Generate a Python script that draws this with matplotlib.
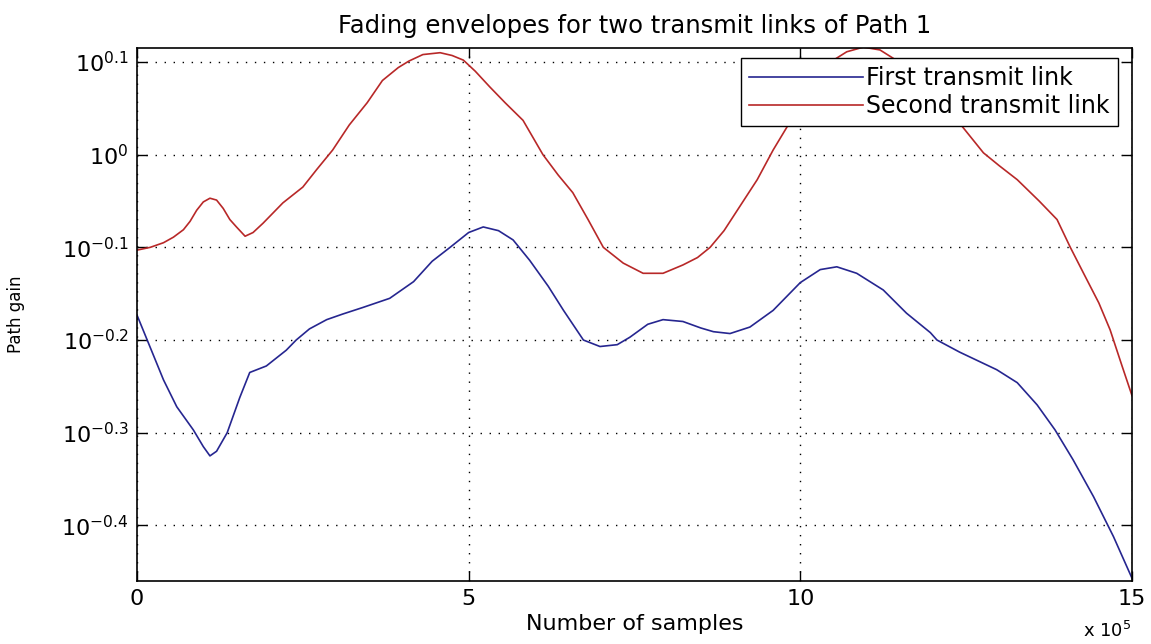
import numpy as np
import matplotlib
matplotlib.use('Agg')
import matplotlib.pyplot as plt
from matplotlib.ticker import FixedLocator, NullLocator

plt.rcParams['font.family'] = ['DejaVu Sans']
plt.rcParams['mathtext.fontset'] = 'dejavusans'

# Samples (x 1e5) and log10 of the path gain.
first_samples = [0.0, 0.2, 0.4, 0.6, 0.85, 1.0, 1.1, 1.2, 1.36, 1.55, 1.7, 1.95,
                 2.25, 2.4, 2.6, 2.86, 3.1, 3.4, 3.81, 4.17, 4.45, 4.72, 5.0,
                 5.22, 5.45, 5.67, 5.92, 6.2, 6.43, 6.73, 6.98, 7.24, 7.43, 7.7,
                 7.93, 8.23, 8.5, 8.69, 8.94, 9.24, 9.59, 10.0, 10.3, 10.55,
                 10.85, 11.25, 11.6, 11.96, 12.06, 12.4, 12.96, 13.27, 13.57,
                 13.84, 14.11, 14.42, 14.72, 15.0]
first_log_gain = [-0.173, -0.208, -0.243, -0.272, -0.297, -0.315, -0.325, -0.32,
                  -0.300, -0.262, -0.235, -0.228, -0.211, -0.200, -0.188, -0.178,
                  -0.172, -0.165, -0.155, -0.137, -0.115, -0.100, -0.084, -0.078,
                  -0.082, -0.092, -0.114, -0.142, -0.168, -0.200, -0.207, -0.205,
                  -0.197, -0.183, -0.178, -0.180, -0.187, -0.191, -0.193, -0.186,
                  -0.168, -0.138, -0.124, -0.121, -0.128, -0.146, -0.171, -0.192,
                  -0.200, -0.213, -0.232, -0.246, -0.270, -0.297, -0.329, -0.369,
                  -0.412, -0.457]

second_samples = [0.0, 0.2, 0.4, 0.55, 0.7, 0.8, 0.9, 1.0, 1.1, 1.2, 1.3, 1.4,
                  1.5, 1.63, 1.75, 1.9, 2.05, 2.2, 2.5, 2.71, 2.95, 3.2, 3.47,
                  3.7, 3.94, 4.1, 4.31, 4.57, 4.75, 4.92, 5.1, 5.32, 5.55, 5.82,
                  6.12, 6.35, 6.57, 6.8, 7.03, 7.33, 7.63, 7.93, 8.23, 8.45, 8.64,
                  8.85, 9.05, 9.35, 9.59, 9.8, 10.05, 10.3, 10.5, 10.7, 10.95,
                  11.2, 11.4, 11.6, 11.8, 12.1, 12.4, 12.76, 13.0, 13.27, 13.6,
                  13.87, 14.07, 14.27, 14.5, 14.67, 14.85, 15.0]
second_log_gain = [-0.103, -0.100, -0.095, -0.089, -0.081, -0.072, -0.060, -0.051,
                   -0.047, -0.049, -0.058, -0.070, -0.078, -0.088, -0.084, -0.074,
                   -0.063, -0.052, -0.035, -0.016, 0.005, 0.032, 0.056, 0.080,
                   0.094, 0.101, 0.108, 0.110, 0.107, 0.102, 0.090, 0.073, 0.056,
                   0.037, 0.000, -0.022, -0.041, -0.070, -0.100, -0.117, -0.128,
                   -0.128, -0.119, -0.111, -0.100, -0.082, -0.060, -0.027, 0.005,
                   0.030, 0.060, 0.087, 0.102, 0.111, 0.116, 0.113, 0.104, 0.090,
                   0.073, 0.052, 0.034, 0.002, -0.012, -0.027, -0.050, -0.070,
                   -0.100, -0.128, -0.160, -0.189, -0.228, -0.260]

ytick_exp = [-0.4, -0.3, -0.2, -0.1, 0, 0.1]
ytick_labels = [r'$\mathregular{10^{-0.4}}$', r'$\mathregular{10^{-0.3}}$',
                r'$\mathregular{10^{-0.2}}$', r'$\mathregular{10^{-0.1}}$',
                r'$\mathregular{10^{0}}$', r'$\mathregular{10^{0.1}}$']
xtick_vals = [0, 5, 10, 15]
xtick_labels = ['0', '5', '10', '15']

fig = plt.figure(figsize=(11.51, 6.44), dpi=100)
ax = fig.add_axes([0.119, 0.0978, 0.8645, 0.8277])

x1 = np.array(first_samples) * 1e5
y1 = 10 ** np.array(first_log_gain)
x2 = np.array(second_samples) * 1e5
y2 = 10 ** np.array(second_log_gain)

ax.plot(x1, y1, color='#262690', lw=1.2, label='First transmit link')
ax.plot(x2, y2, color='#b82828', lw=1.2, label='Second transmit link')

ax.set_yscale('log')
ax.set_xlim(0, 15e5)
ax.set_ylim(10 ** -0.46, 10 ** 0.1151)
ax.yaxis.set_major_locator(FixedLocator([10 ** e for e in ytick_exp]))
ax.yaxis.set_minor_locator(NullLocator())
ax.set_yticklabels(ytick_labels)
ax.set_xticks([v * 1e5 for v in xtick_vals])
ax.set_xticklabels(xtick_labels)

ax.tick_params(direction='in', length=7, width=1, top=True, right=True,
               labelsize=16, pad=6, colors='black')
for s in ax.spines.values():
    s.set_linewidth(1.2)

ax.grid(True, color='black', lw=1.0, linestyle=(0, (1, 5.5)))

ax.set_title('Fading envelopes for two transmit links of Path 1',
             fontsize=17.5, pad=11)
ax.set_xlabel('Number of samples', fontsize=16, labelpad=3)
ax.set_ylabel('Path gain', fontsize=12, labelpad=26)
fig.text(0.983, 0.004, r'x $\mathregular{10^{5}}$', ha='right', va='bottom',
         fontsize=13)

leg = ax.legend(loc='upper right', bbox_to_anchor=(0.986, 0.981),
                borderaxespad=0, fontsize=17, fancybox=False, framealpha=1,
                edgecolor='black', handlelength=4.8, handletextpad=0.15,
                labelspacing=0.15, borderpad=0.35)
leg.get_frame().set_linewidth(1.0)

fig.savefig('out.png', dpi=100)
